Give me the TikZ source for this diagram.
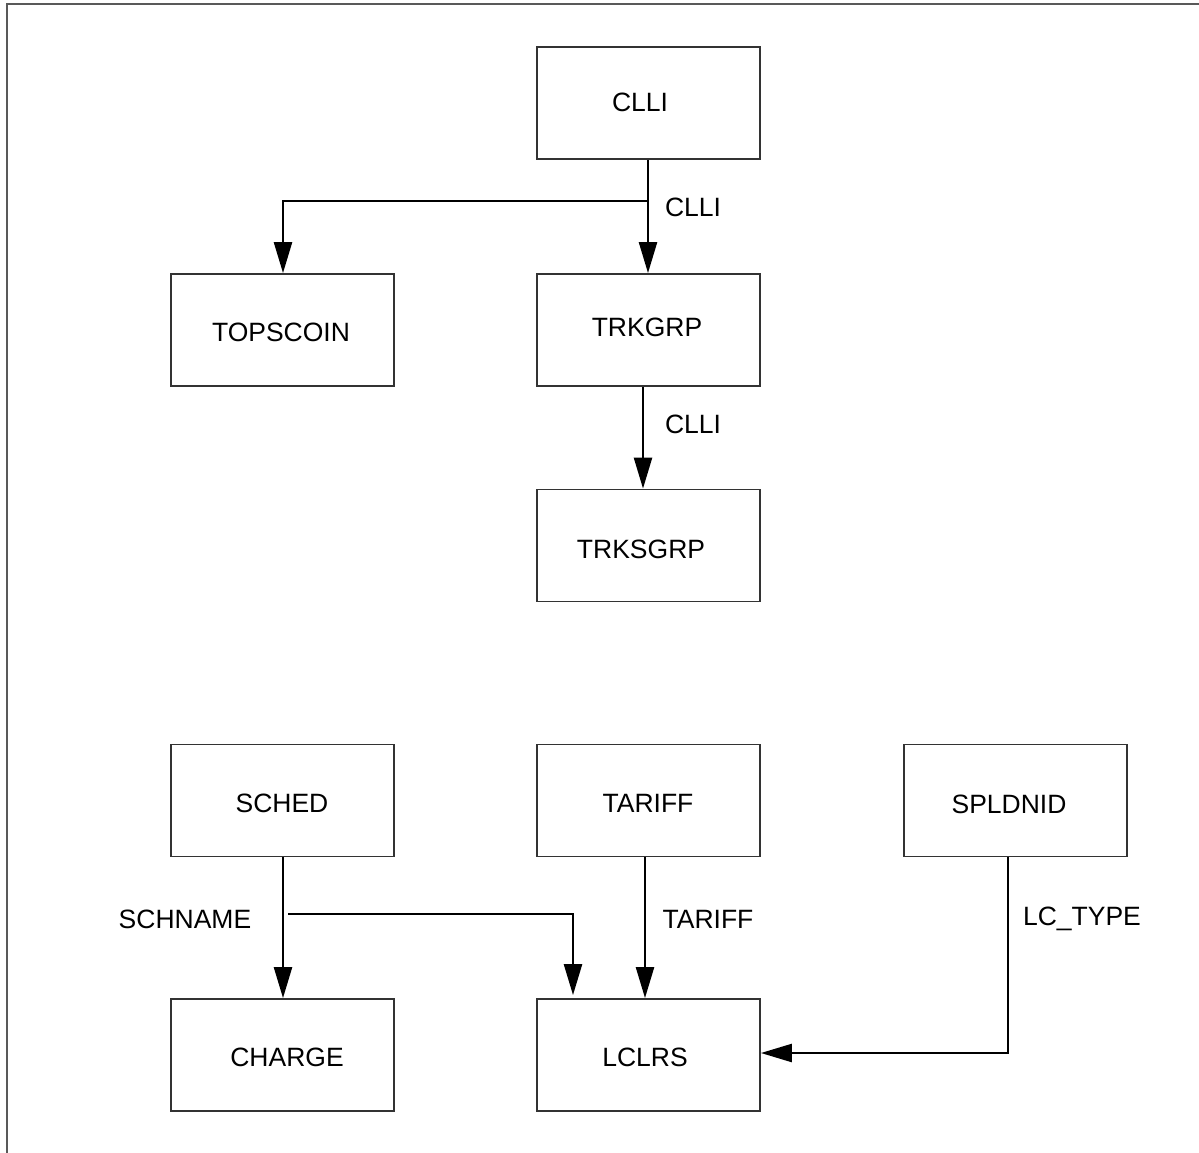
\documentclass[tikz,border=0pt]{standalone}
\usepackage{fontspec}
\setmainfont{Liberation Sans}
\usetikzlibrary{arrows.meta}
\begin{document}
\begin{tikzpicture}[x=1pt,y=-1pt,
  box/.style={draw=black!80, line width=1.8pt, rectangle, inner sep=0pt, minimum width=223pt, minimum height=112pt},
  txt/.style={font=\fontsize{26.5}{31}\selectfont, inner sep=0pt, anchor=center},
  conn/.style={draw=black, line width=2.4pt, -{Triangle[length=31pt,width=18pt]}},
  plain/.style={draw=black, line width=2.4pt}]
\useasboundingbox (0,0) rectangle (1199,1153);
\fill[white] (0,0) rectangle (1199,1153);
% frame
\draw[gray!70!black, line width=2pt] (6.5,1153) -- (6.5,4.3) -- (1199,4.3);
% boxes
\node[box] (clli) at (648.5,103) {};
\node[box] (topscoin) at (282.5,330) {};
\node[box] (trkgrp) at (648.5,330) {};
\node[box] (trksgrp) at (648.5,545.5) {};
\node[box] (sched) at (282.5,800.5) {};
\node[box] (tariff) at (648.5,800.5) {};
\node[box] (spldnid) at (1015.5,800.5) {};
\node[box] (charge) at (282.5,1055) {};
\node[box] (lclrs) at (648.5,1055) {};
% box texts
\node[txt] (tclli) at (640,102) {CLLI};
\node[txt] (ttopscoin) at (281,332) {TOPSCOIN};
\node[txt] (ttrkgrp) at (647,327) {TRKGRP};
\node[txt] (ttrksgrp) at (641,549) {TRKSGRP};
\node[txt] (tsched) at (282,803) {SCHED};
\node[txt] (ttariff) at (648,803) {TARIFF};
\node[txt] (tspldnid) at (1009,804) {SPLDNID};
\node[txt] (tcharge) at (287,1057) {CHARGE};
\node[txt] (tlclrs) at (645,1057) {LCLRS};
% connector labels
\node[txt] (l1) at (693,207) {CLLI};
\node[txt] (l2) at (693,424) {CLLI};
\node[txt] (l3) at (185,919) {SCHNAME};
\node[txt] (l4) at (708,919) {TARIFF};
\node[txt] (l5) at (1082,919) {LC\_TYPE};
% coordinates
\coordinate (b1) at (648,201);
\coordinate (s1) at (288,914);
\coordinate (s2) at (573,914);
\coordinate (p1) at (1008,1053);
% connectors
\draw[conn] (clli.south -| b1) -- (trkgrp.north -| b1);
\draw[conn] (b1) -- (b1 -| 283,0) -- (topscoin.north -| 283,0);
\draw[conn] (trkgrp.south -| 643,0) -- (trksgrp.north -| 643,0);
\draw[conn] (sched.south -| 283,0) -- (charge.north -| 283,0);
\draw[conn] (s1) -- (s2) -- ([yshift=3pt]lclrs.north -| s2);
\draw[conn] (tariff.south -| 645,0) -- (lclrs.north -| 645,0);
\draw[conn] (spldnid.south -| p1) -- (p1) -- (lclrs.east |- p1);
\end{tikzpicture}
\end{document}
